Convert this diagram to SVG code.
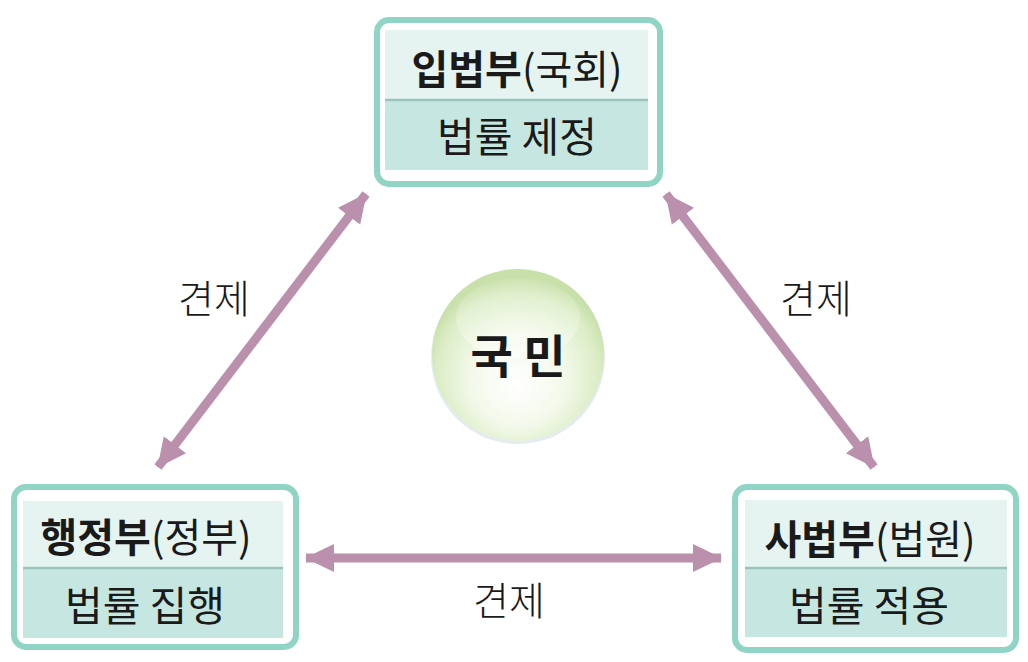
<svg xmlns="http://www.w3.org/2000/svg" width="1028" height="662" viewBox="0 0 1028 662">
<style>
.outer{fill:#ffffff;stroke:#8fd4c4;stroke-width:6}
.head{fill:#e5f4f1}
.low{fill:#c6e7e1}
.div{stroke:#9bc4bd;stroke-width:2.5}
.t{font-family:"Noto Sans CJK KR","Noto Sans",sans-serif;fill:#1a1a1a;text-anchor:middle}
.b{font-weight:bold}
.h{font-size:40px}
.l{font-size:41px;font-weight:400}
.arr{stroke:#bb90ad;stroke-width:9;fill:none}
.lab{font-family:"Noto Sans CJK KR","Noto Sans",sans-serif;font-size:39px;font-weight:300;fill:#1a1a1a;text-anchor:middle}
</style>
<defs>
<marker id="ah" markerUnits="userSpaceOnUse" viewBox="0 0 30 30" refX="28" refY="15" markerWidth="30" markerHeight="30" orient="auto-start-reverse">
<path d="M0,1 L29,15 L0,29 Z" fill="#bb90ad"/>
</marker>
<radialGradient id="ball" cx="0.5" cy="0.6" r="0.55" fx="0.5" fy="0.68">
<stop offset="0" stop-color="#ffffff"/>
<stop offset="0.5" stop-color="#f3f9ea"/>
<stop offset="0.85" stop-color="#dcedc6"/>
<stop offset="1" stop-color="#c8e0aa"/>
</radialGradient>
<linearGradient id="shine" x1="0" y1="0" x2="0" y2="1">
<stop offset="0" stop-color="#ffffff" stop-opacity="0.1"/>
<stop offset="1" stop-color="#ffffff" stop-opacity="0.8"/>
</linearGradient>
</defs>

<g id="connectors">
<line class="arr" x1="158" y1="467" x2="366" y2="194" marker-start="url(#ah)" marker-end="url(#ah)"/>
<line class="arr" x1="666" y1="194" x2="874" y2="467" marker-start="url(#ah)" marker-end="url(#ah)"/>
<line class="arr" x1="306" y1="558" x2="721" y2="558" marker-start="url(#ah)" marker-end="url(#ah)"/>
<text class="lab" x="214" y="313">견제</text>
<text class="lab" x="816" y="313">견제</text>
<text class="lab" x="509" y="615">견제</text>
</g>

<g id="legislative">
<rect class="outer" x="377" y="20" width="283" height="164" rx="12"/>
<rect class="head" x="385" y="30" width="263" height="70"/>
<rect class="low" x="385" y="100" width="263" height="70"/>
<line class="div" x1="385" y1="100" x2="648" y2="100"/>
<text class="t h" x="517" y="84"><tspan class="b">입법부</tspan><tspan>(국회)</tspan></text>
<text class="t l" x="517" y="152">법률 제정</text>
</g>

<g id="executive">
<rect class="outer" x="14" y="487" width="282" height="160" rx="12"/>
<rect class="head" x="23" y="501" width="260" height="67"/>
<rect class="low" x="23" y="568" width="260" height="70"/>
<line class="div" x1="23" y1="568" x2="283" y2="568"/>
<text class="t h" x="146" y="552"><tspan class="b">행정부</tspan><tspan>(정부)</tspan></text>
<text class="t l" x="145" y="621">법률 집행</text>
</g>

<g id="judicial">
<rect class="outer" x="735" y="487" width="281" height="163" rx="12"/>
<rect class="head" x="745" y="500" width="262" height="68"/>
<rect class="low" x="745" y="568" width="262" height="69"/>
<line class="div" x1="745" y1="568" x2="1007" y2="568"/>
<text class="t h" x="870" y="554"><tspan class="b">사법부</tspan><tspan>(법원)</tspan></text>
<text class="t l" x="869" y="621">법률 적용</text>
</g>

<g id="people">
<circle cx="518" cy="357" r="87" fill="#e4ecf2"/>
<circle cx="518" cy="355" r="86" fill="url(#ball)"/>
<ellipse cx="518" cy="318" rx="62" ry="40" fill="url(#shine)" opacity="0.5"/>
<text class="t b" x="518" y="373" style="font-size:46px">국 민</text>
</g>
</svg>
